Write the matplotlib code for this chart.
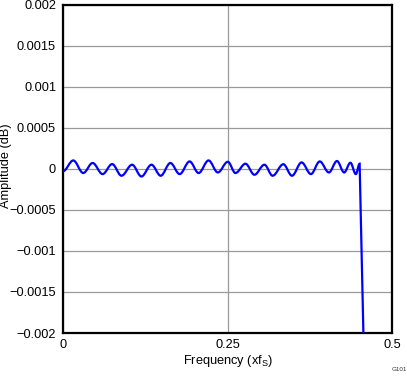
import matplotlib
matplotlib.use('Agg')
import matplotlib.pyplot as plt
from matplotlib.path import Path
from matplotlib.patches import PathPatch

plt.rcParams['font.family'] = ['Liberation Sans', 'DejaVu Sans']
plt.rcParams['mathtext.fontset'] = 'custom'
plt.rcParams['mathtext.rm'] = 'Liberation Sans'

# passband ripple: turning points (peaks and troughs)
freq = [0.0, 0.0156, 0.0308, 0.0450, 0.0602, 0.0747, 0.0889, 0.1050, 0.1192,
        0.1344, 0.1485, 0.1632, 0.1773, 0.1924, 0.2061, 0.2212, 0.2353,
        0.2505, 0.2621, 0.2773, 0.2909, 0.3061, 0.3186, 0.3348, 0.3480,
        0.3626, 0.3768, 0.3902, 0.4041, 0.4164, 0.4273, 0.4368, 0.4450,
        0.4508]
ampl = [-0.000030, 0.000101, -0.000052, 0.000070, -0.000065, 0.000057,
        -0.000085, 0.000049, -0.000094, 0.000049, -0.000085, 0.000070,
        -0.000065, 0.000089, -0.000052, 0.000101, -0.000045, 0.000085,
        -0.000052, 0.000061, -0.000073, 0.000049, -0.000085, 0.000055,
        -0.000085, 0.000077, -0.000065, 0.000089, -0.000045, 0.000094,
        -0.000045, 0.000073, -0.000065, 0.000061]
# stop band edge: the curve falls off the bottom of the plot
drop_freq = 0.4568
drop_ampl = -0.0021

xticks = [0, 0.25, 0.5]
xlabels = ['0', '0.25', '0.5']
yticks = [-0.002, -0.0015, -0.001, -0.0005, 0, 0.0005, 0.001, 0.0015, 0.002]
ylabels = ['-0.002', '-0.0015', '-0.001', '-0.0005', '0', '0.0005', '0.001',
           '0.0015', '0.002']

fig = plt.figure(figsize=(4.07, 3.77), dpi=100)
ax = fig.add_axes([63 / 407, 1 - 333 / 377, 329 / 407, 328.5 / 377])

# smooth ripple: cubic segments with flat tangents at each turning point
verts = [(freq[0], ampl[0])]
codes = [Path.MOVETO]
for i in range(1, len(freq)):
    d = freq[i] - freq[i - 1]
    verts += [(freq[i - 1] + 0.36 * d, ampl[i - 1]),
              (freq[i] - 0.36 * d, ampl[i]),
              (freq[i], ampl[i])]
    codes += [Path.CURVE4] * 3
verts.append((drop_freq, drop_ampl))
codes.append(Path.LINETO)
ax.add_patch(PathPatch(Path(verts, codes), facecolor='none',
                       edgecolor='#0000ff', lw=1.6, zorder=3))

ax.set_xlim(0, 0.5)
ax.set_ylim(-0.002, 0.002)
ax.set_xticks(xticks)
ax.set_xticklabels(xlabels)
ax.set_yticks(yticks)
ax.set_yticklabels([s.replace('-', '\u2212') for s in ylabels])
ax.tick_params(length=0, labelsize=9.2, pad=5)
ax.tick_params(axis='x', pad=4)
ax.grid(True, color='#9a9a9a', lw=0.9)
for s in ax.spines.values():
    s.set_linewidth(1.6)
    s.set_color('black')

fig.text(228 / 407, 1 - 361 / 377, r'Frequency (xf$_{\rm S}$)', fontsize=9.2,
         ha='center', va='center')
fig.text(6.5 / 407, 1 - 165.5 / 377, 'Amplitude (dB)', fontsize=9.2,
         rotation=90, ha='center', va='center')
fig.text(392 / 407, 1 - 371 / 377, 'G101', fontsize=4.5, color='#333333')

plt.savefig('out.png', dpi=100)
